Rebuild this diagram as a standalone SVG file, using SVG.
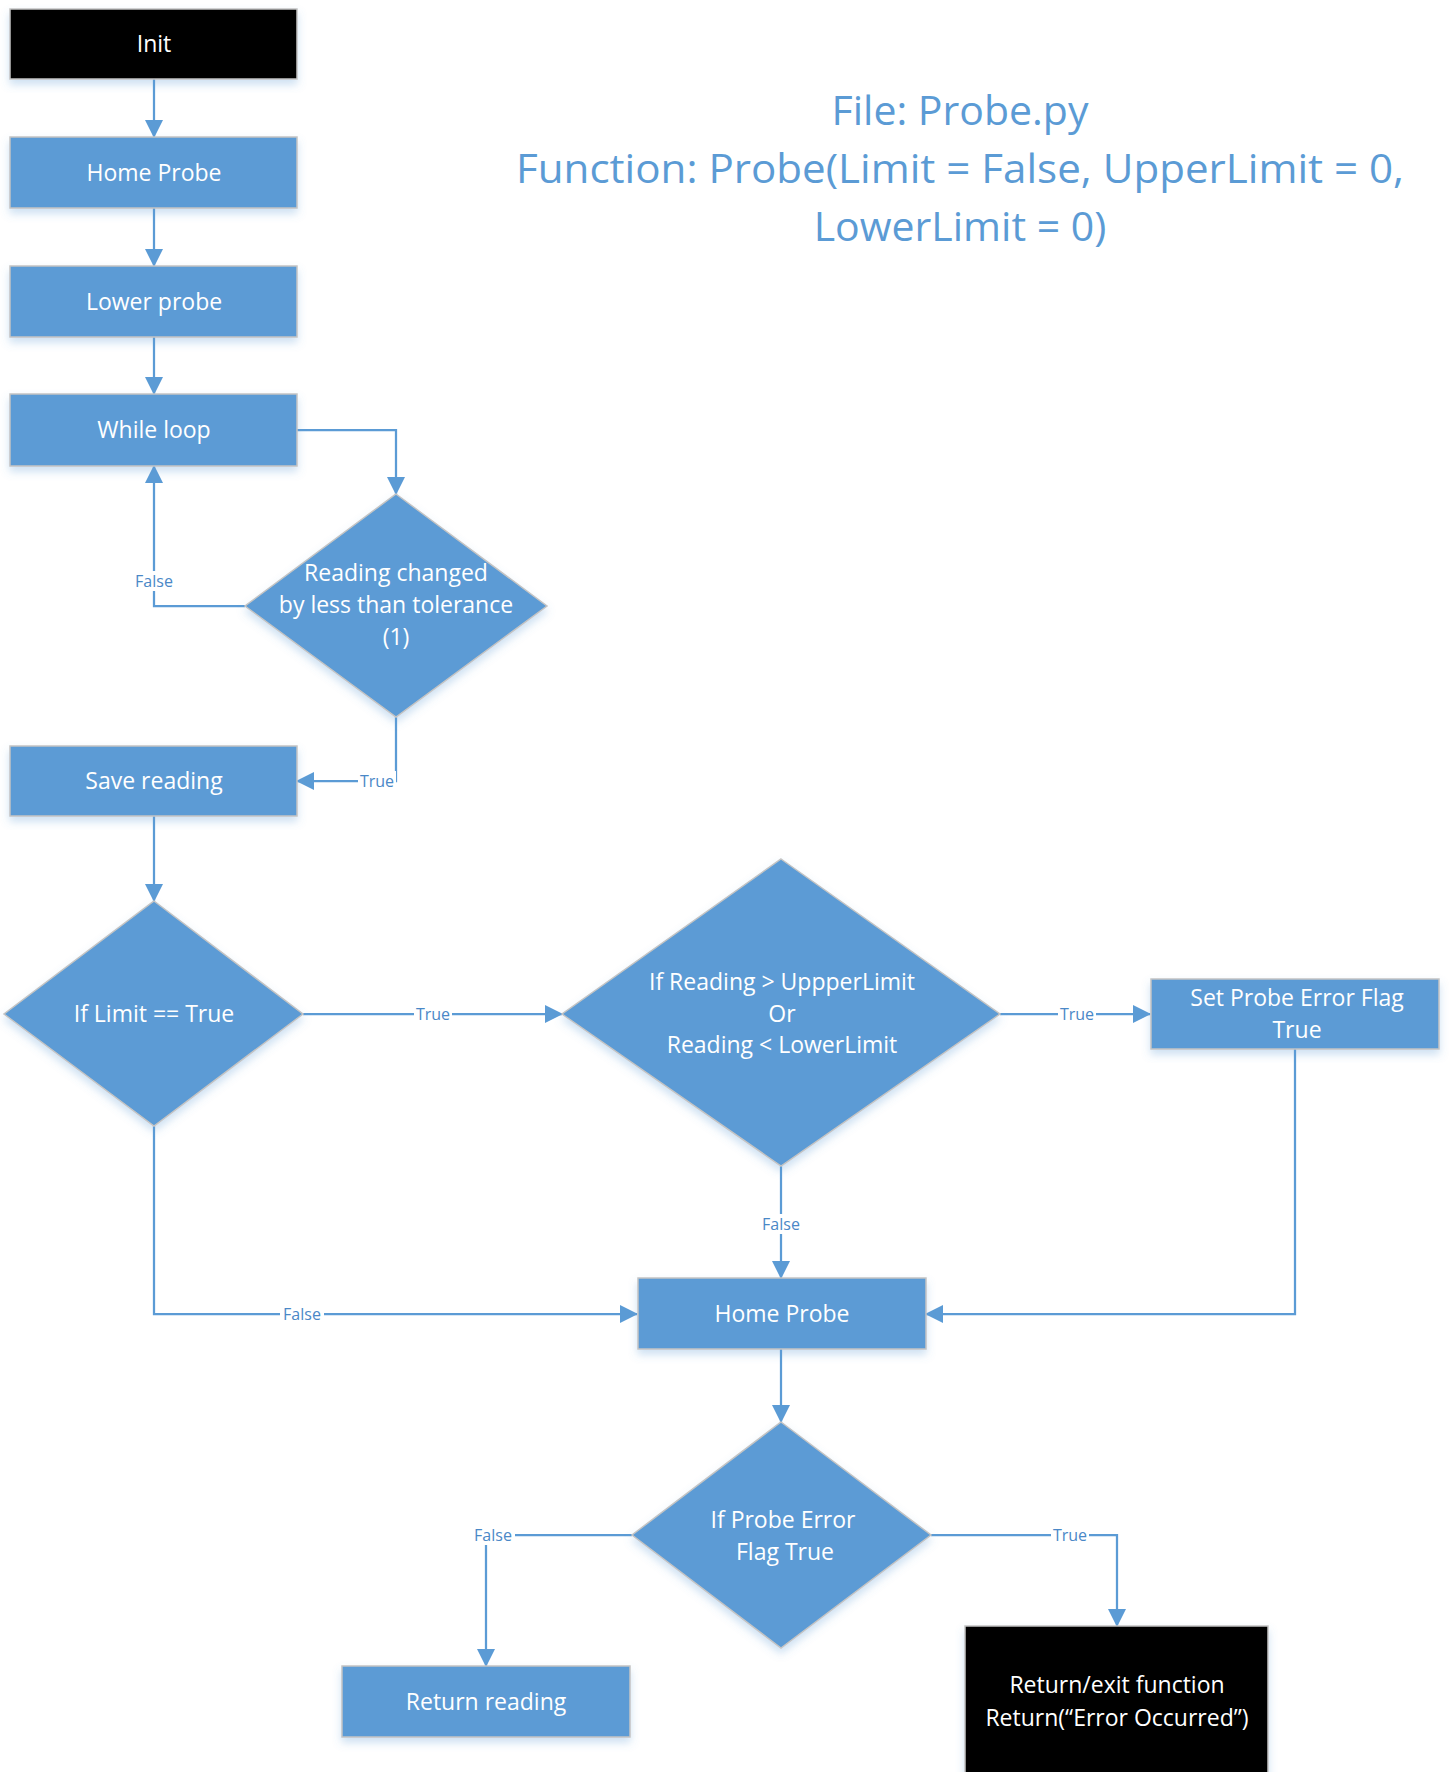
<svg xmlns="http://www.w3.org/2000/svg" width="1450" height="1772" viewBox="0 0 1450 1772">
  <defs>
    <style>
      .box { fill: #5B9BD5; stroke: #C4C4C4; stroke-width: 1.5; filter: url(#shadow); }
      .term { fill: #000000; stroke: #C4C4C4; stroke-width: 1.5; filter: url(#shadow); }
      .node-text { font-family: "Open Sans", "Liberation Sans", sans-serif; font-size: 23px; fill: #FFFFFF; text-anchor: middle; }
      .title { font-family: "Open Sans", "Liberation Sans", sans-serif; font-size: 41px; fill: #5B9BD5; text-anchor: middle; }
      .edge { fill: none; stroke: #5B9BD5; stroke-width: 2.25; }
      .edge-end { marker-end: url(#arrow); }
      .lbl-bg { fill: #FFFFFF; }
      .lbl { font-family: "Open Sans", "Liberation Sans", sans-serif; font-size: 16px; fill: #4A88C7; text-anchor: middle; }
    </style>
    <filter id="shadow" x="-10%" y="-10%" width="120%" height="130%">
      <feDropShadow dx="0" dy="5" stdDeviation="4" flood-color="#5B9BD5" flood-opacity="0.3"/>
    </filter>
    <marker id="arrow" viewBox="0 0 18 18" refX="17" refY="9" markerWidth="18" markerHeight="18" markerUnits="userSpaceOnUse" orient="auto">
      <path d="M0 0 L18 9 L0 18 Z" fill="#5B9BD5"/>
    </marker>
  </defs>

  <rect width="1450" height="1772" fill="#FFFFFF"/>

  <!-- heading -->
  <g id="title">
    <text class="title" x="960" y="125">File: Probe.py</text>
    <text class="title" x="960" y="183" textLength="888" lengthAdjust="spacingAndGlyphs">Function: Probe(Limit = False, UpperLimit = 0,</text>
    <text class="title" x="960" y="241">LowerLimit = 0)</text>
  </g>

  <!-- connectors -->
  <g id="connectors">
    <path class="edge edge-end" d="M154 79 V137"/>
    <path class="edge edge-end" d="M154 208 V266"/>
    <path class="edge edge-end" d="M154 337 V394"/>
    <path class="edge edge-end" d="M297 430 H396 V494"/>
    <path class="edge edge-end" d="M245 606 H154 V466"/>
    <path class="edge edge-end" d="M396 717 V781 H297"/>
    <path class="edge edge-end" d="M154 816 V901"/>
    <path class="edge edge-end" d="M303 1014 H562"/>
    <path class="edge edge-end" d="M1000 1014 H1150"/>
    <path class="edge edge-end" d="M781 1166 V1278"/>
    <path class="edge edge-end" d="M154 1126 V1314 H637"/>
    <path class="edge edge-end" d="M1295 1049 V1314 H926"/>
    <path class="edge edge-end" d="M781 1349 V1422"/>
    <path class="edge edge-end" d="M632 1535 H486 V1666"/>
    <path class="edge edge-end" d="M931 1535 H1117 V1626"/>

    <!-- branch labels -->
    <rect class="lbl-bg" x="132" y="571" width="44" height="20"/>
    <text class="lbl" x="154" y="587">False</text>
    <rect class="lbl-bg" x="358" y="771" width="38" height="20"/>
    <text class="lbl" x="377" y="787">True</text>
    <rect class="lbl-bg" x="414" y="1004" width="38" height="20"/>
    <text class="lbl" x="433" y="1020">True</text>
    <rect class="lbl-bg" x="1058" y="1004" width="38" height="20"/>
    <text class="lbl" x="1077" y="1020">True</text>
    <rect class="lbl-bg" x="759" y="1214" width="44" height="20"/>
    <text class="lbl" x="781" y="1230">False</text>
    <rect class="lbl-bg" x="280" y="1304" width="44" height="20"/>
    <text class="lbl" x="302" y="1320">False</text>
    <rect class="lbl-bg" x="471" y="1525" width="44" height="20"/>
    <text class="lbl" x="493" y="1541">False</text>
    <rect class="lbl-bg" x="1051" y="1525" width="38" height="20"/>
    <text class="lbl" x="1070" y="1541">True</text>
  </g>

  <!-- nodes -->
  <g id="init">
    <rect class="term" x="10" y="9" width="287" height="70"/>
    <text class="node-text" x="154" y="52">Init</text>
  </g>
  <g id="home-probe-1">
    <rect class="box" x="10" y="137" width="287" height="71"/>
    <text class="node-text" x="154" y="181">Home Probe</text>
  </g>
  <g id="lower-probe">
    <rect class="box" x="10" y="266" width="287" height="71"/>
    <text class="node-text" x="154" y="310">Lower probe</text>
  </g>
  <g id="while-loop">
    <rect class="box" x="10" y="394" width="287" height="72"/>
    <text class="node-text" x="154" y="438">While loop</text>
  </g>
  <g id="reading-changed">
    <polygon class="box" points="396,494 547,606 396,717 245,606"/>
    <text class="node-text" x="396" y="581">Reading changed</text>
    <text class="node-text" x="396" y="613">by less than tolerance</text>
    <text class="node-text" x="396" y="645">(1)</text>
  </g>
  <g id="save-reading">
    <rect class="box" x="10" y="746" width="287" height="70"/>
    <text class="node-text" x="154" y="789">Save reading</text>
  </g>
  <g id="if-limit">
    <polygon class="box" points="154,901 303,1014 154,1126 4,1014"/>
    <text class="node-text" x="154" y="1022">If Limit == True</text>
  </g>
  <g id="if-reading-out-of-range">
    <polygon class="box" points="781,859 1000,1014 781,1166 562,1014"/>
    <text class="node-text" x="782" y="990">If Reading &gt; UppperLimit</text>
    <text class="node-text" x="782" y="1022">Or</text>
    <text class="node-text" x="782" y="1053">Reading &lt; LowerLimit</text>
  </g>
  <g id="set-error-flag">
    <rect class="box" x="1151" y="979" width="288" height="70"/>
    <text class="node-text" x="1297" y="1006">Set Probe Error Flag</text>
    <text class="node-text" x="1297" y="1038">True</text>
  </g>
  <g id="home-probe-2">
    <rect class="box" x="638" y="1278" width="288" height="71"/>
    <text class="node-text" x="782" y="1322">Home Probe</text>
  </g>
  <g id="if-error-flag">
    <polygon class="box" points="781,1422 931,1535 781,1648 632,1535"/>
    <text class="node-text" x="783" y="1528">If Probe Error</text>
    <text class="node-text" x="785" y="1560">Flag True</text>
  </g>
  <g id="return-reading">
    <rect class="box" x="342" y="1666" width="288" height="71"/>
    <text class="node-text" x="486" y="1710">Return reading</text>
  </g>
  <g id="return-error">
    <rect class="term" x="965" y="1626" width="303" height="160"/>
    <text class="node-text" x="1117" y="1693">Return/exit function</text>
    <text class="node-text" x="1117" y="1726">Return(“Error Occurred”)</text>
  </g>
</svg>
